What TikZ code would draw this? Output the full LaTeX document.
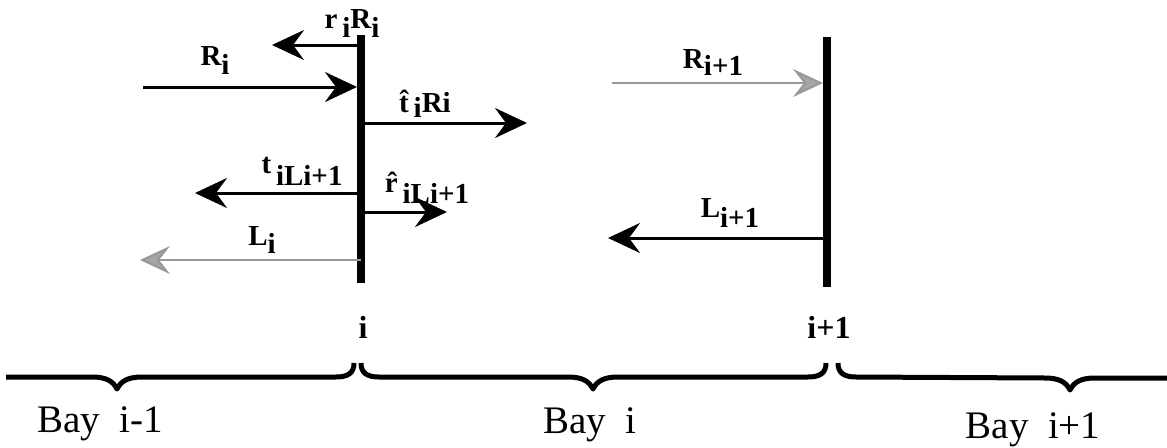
\documentclass[tikz,border=0pt]{standalone}
\usepackage{fontspec}
\setmainfont{Liberation Serif}
\usetikzlibrary{arrows.meta}
\newcommand\lowr[2][9pt]{\raisebox{-#1}{#2}}
\begin{document}
\begin{tikzpicture}[x=1pt,y=-1pt,
  wall/.style={line width=8pt},
  ray/.style={line width=3pt,-{Stealth[length=32pt,width=30pt,inset=11pt]}},
  faint/.style={line width=2.2pt,draw=black!40,-{Stealth[length=30pt,width=28pt,inset=11pt,fill=black!35]}},
  lbl/.style={anchor=base,inner sep=0pt,font=\fontsize{29}{33}\selectfont\bfseries},
  idx/.style={anchor=base,inner sep=0pt,font=\fontsize{32}{36}\selectfont\bfseries},
  bay/.style={anchor=base,inner sep=0pt,font=\fontsize{39}{44}\selectfont},
  brace/.style={line width=5pt,line join=round}]
\useasboundingbox (0,0) rectangle (1167,447);

% interfaces i and i+1
\coordinate (wiT) at (361,35);  \coordinate (wiB) at (361,283);
\coordinate (wjT) at (827,37);  \coordinate (wjB) at (827,287);
\draw[wall] (wiT) -- (wiB);
\draw[wall] (wjT) -- (wjB);

% wave components at interface i
\coordinate (rRs) at (361,45);  \coordinate (rRe) at (272,45);
\coordinate (Ris) at (143,87);  \coordinate (Rie) at (357,87);
\coordinate (tRs) at (361,123); \coordinate (tRe) at (527,123);
\coordinate (tLs) at (361,193); \coordinate (tLe) at (195,193);
\coordinate (rLs) at (361,212); \coordinate (rLe) at (447,212);
\coordinate (Lis) at (361,260); \coordinate (Lie) at (140,260);
\draw[ray] (rRs) -- (rRe);
\draw[ray] (Ris) -- (Rie);
\draw[ray] (tRs) -- (tRe);
\draw[ray] (tLs) -- (tLe);
\draw[ray] (rLs) -- (rLe);
\draw[faint] (Lis) -- (Lie);

% wave components at interface i+1
\coordinate (Rjs) at (612,83);  \coordinate (Rje) at (823,83);
\coordinate (Ljs) at (827,238); \coordinate (Lje) at (608,238);
\draw[faint] (Rjs) -- (Rje);
\draw[ray] (Ljs) -- (Lje);

% labels
\node[lbl] (lrR) at (352,28)  {r\,\lowr{i}R\lowr{i}};
\node[lbl] (lRi) at (215,65)  {R\lowr{i}};
\node[lbl] (ltR) at (425,112) {\^t\,\lowr[5pt]{i}Ri};
\node[lbl] (ltL) at (302,185) {\raisebox{12pt}{t}\,iLi+1};
\node[lbl] (lrL) at (427,203) {\raisebox{11pt}{\^r}\,iLi+1};
\node[lbl] (lLi) at (262,245) {L\lowr[8pt]{i}};
\node[lbl] (lRj) at (713,68)  {R\lowr[7pt]{i+1}};
\node[lbl] (lLj) at (730,217) {L\lowr[10pt]{i+1}};

\node[idx] (ni) at (363,338) {i};
\node[idx] (nj) at (829,338) {i+1};

% bays
\draw[brace] (6,377) -- (92,377) .. controls (106,377) and (113,381) .. (117,389)
  .. controls (121,381) and (128,377) .. (142,377) -- (336,377)
  .. controls (348,377) and (354,373) .. (354,363);
\draw[brace] (361,363) .. controls (361,373) and (367,377) .. (379,377) -- (568,377)
  .. controls (582,377) and (589,381) .. (593,389)
  .. controls (597,381) and (604,377) .. (618,377) -- (808,377)
  .. controls (820,377) and (826,373) .. (826,363);
\draw[brace] (838,363) .. controls (838,373) and (844,377) .. (856,377) -- (1045,378)
  .. controls (1059,378) and (1066,382) .. (1070,390)
  .. controls (1074,382) and (1081,378) .. (1095,378) -- (1170,378);

\node[bay] (b1) at (100,432) {Bay\ \ i-1};
\node[bay] (b2) at (590,433) {Bay\ \ i};
\node[bay] (b3) at (1033,438) {Bay\ \ i+1};
\end{tikzpicture}
\end{document}
